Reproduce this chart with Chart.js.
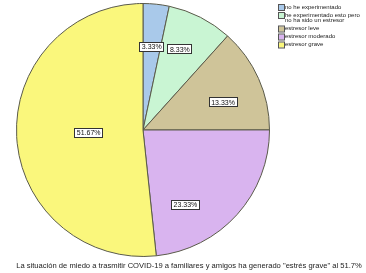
<!DOCTYPE html>
<html>
<head>
<meta charset="utf-8">
<script src="https://cdn.jsdelivr.net/npm/chart.js@4"></script>
<style>
  html, body { margin: 0; padding: 0; background: #fff; }
  #wrap { width: 366px; height: 273px; position: relative; }
</style>
</head>
<body>
<div id="wrap"><canvas id="chart" width="366" height="273"></canvas></div>
<script>
// categorías y porcentajes
var categories = [
    'no he experimentado',
    ['he experimentado esto pero', 'no ha sido un estresor'],
    'estresor leve',
    'estresor moderado',
    'estresor grave'
];
var percents = [3.33, 8.33, 13.33, 23.33, 51.67];
var sliceColors = ['#a9c9ea', '#c9f5d3', '#cfc499', '#d9b4ef', '#faf77c'];
var caption = 'La situación de miedo a trasmitir COVID-19 a familiares y amigos ha generado "estrés grave" al 51.7%';

// posición de cada etiqueta dentro de su sector (fracción del ángulo, fracción del radio)
var labelAngleFrac = [0.5, 0.42, 0.6, 0.72, 0.5];
var labelRadiusFrac = [0.66, 0.7, 0.67, 0.68, 0.43];

var boxLabels = {
    id: 'boxLabels',
    afterDatasetsDraw: function(chart) {
        var ctx = chart.ctx;
        var meta = chart.getDatasetMeta(0);
        ctx.save();
        ctx.font = '7px "Liberation Sans", Arial, sans-serif';
        ctx.textAlign = 'center';
        ctx.textBaseline = 'middle';
        meta.data.forEach(function(arc, i) {
            var a = arc.startAngle + (arc.endAngle - arc.startAngle) * labelAngleFrac[i];
            var r = arc.outerRadius * labelRadiusFrac[i];
            var x = arc.x + Math.cos(a) * r;
            var y = arc.y + Math.sin(a) * r;
            var txt = percents[i].toFixed(2) + '%';
            var w = ctx.measureText(txt).width + 5;
            ctx.fillStyle = '#fff';
            ctx.fillRect(Math.round(x - w / 2), Math.round(y - 5), Math.round(w), 10);
            ctx.strokeStyle = '#333';
            ctx.lineWidth = 1;
            ctx.strokeRect(Math.round(x - w / 2) + 0.5, Math.round(y - 5) + 0.5, Math.round(w) - 1, 9);
            ctx.fillStyle = '#111';
            ctx.fillText(txt, x, y + 0.5);
        });
        ctx.restore();
    }
};

var sideLegend = {
    id: 'sideLegend',
    afterDraw: function(chart) {
        var ctx = chart.ctx;
        ctx.save();
        ctx.font = '6px "Liberation Sans", Arial, sans-serif';
        ctx.textBaseline = 'middle';
        ctx.textAlign = 'left';
        var y = 7;
        categories.forEach(function(cat, i) {
            var lines = Array.isArray(cat) ? cat : [cat];
            ctx.fillStyle = sliceColors[i];
            ctx.fillRect(279, y - 2, 5, 5);
            ctx.strokeStyle = '#555';
            ctx.lineWidth = 1;
            ctx.strokeRect(278.5, y - 2.5, 6, 6);
            ctx.fillStyle = '#222';
            lines.forEach(function(line, j) {
                ctx.fillText(line, 285, y + j * 5.5);
            });
            y += 8 + (lines.length - 1) * 5.5;
        });
        // texto inferior
        ctx.font = '7.6px "Liberation Sans", Arial, sans-serif';
        ctx.textAlign = 'center';
        ctx.fillStyle = '#222';
        ctx.fillText(caption, 189, 266);
        ctx.restore();
    }
};

new Chart(document.getElementById('chart'), {
    type: 'pie',
    data: {
        labels: categories,
        datasets: [{
            data: percents,
            backgroundColor: sliceColors,
            borderColor: '#5a5a4a',
            borderWidth: 1
        }]
    },
    options: {
        responsive: false,
        animation: false,
        layout: { padding: { top: 3, bottom: 16, left: 16, right: 96 } },
        plugins: {
            legend: { display: false },
            tooltip: { enabled: false }
        }
    },
    plugins: [boxLabels, sideLegend]
});
</script>
</body>
</html>
